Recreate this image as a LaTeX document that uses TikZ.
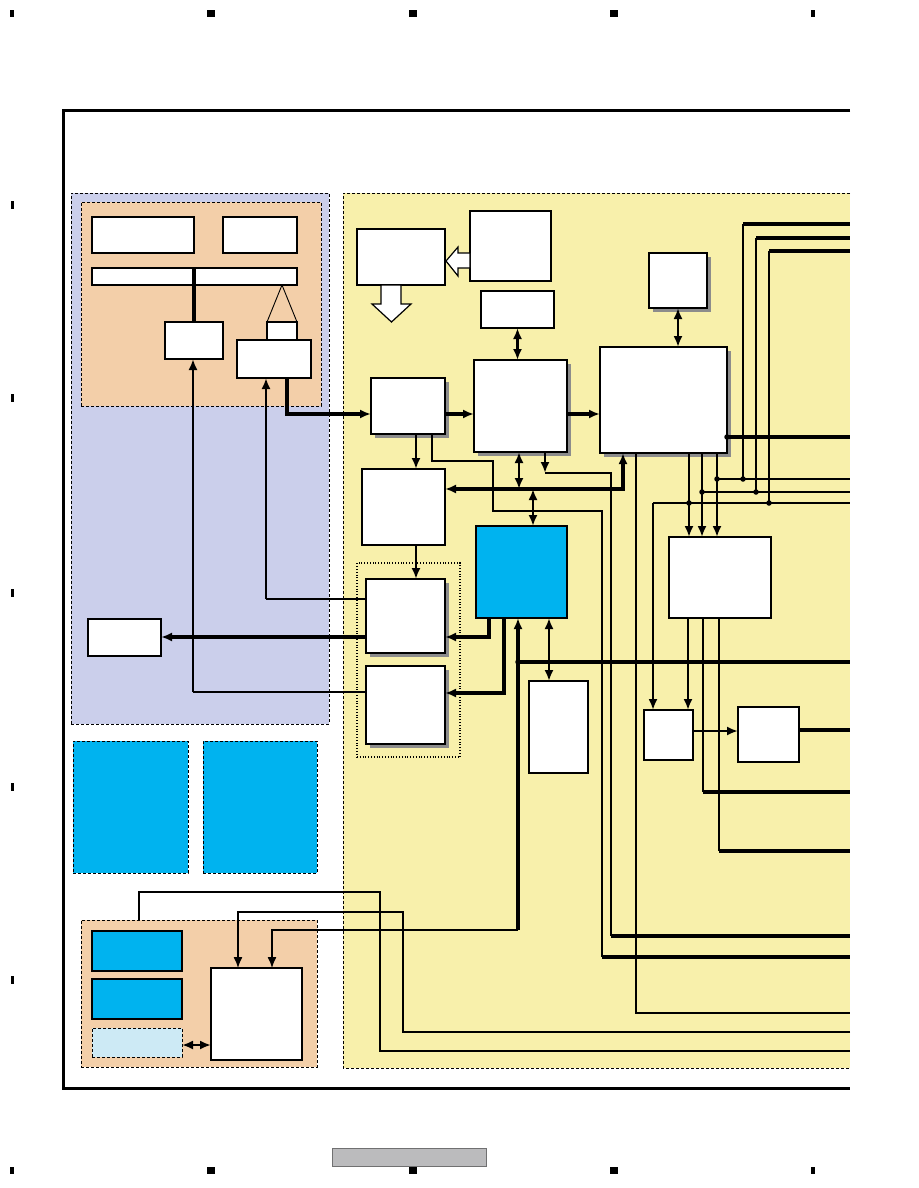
\documentclass[tikz,border=0pt]{standalone}
\usepackage{tikz}
\usetikzlibrary{arrows.meta, calc, positioning, shadows}

\definecolor{lavender}{HTML}{CBCFEB}
\definecolor{peach}{HTML}{F3CFA9}
\definecolor{cream}{HTML}{F8F0AB}
\definecolor{chipblue}{HTML}{00B3EF}
\definecolor{paleblue}{HTML}{CDEAF5}
\definecolor{plategray}{HTML}{BBBBBD}

\begin{document}
\begin{tikzpicture}[
    x=1pt, y=-1pt,
    >={Latex[length=11pt,width=9pt]},
    sz/.style 2 args={minimum width=#1pt, minimum height=#2pt},
    zone/.style={draw, dash pattern=on 3pt off 2pt, line width=0.8pt, inner sep=0pt, outer sep=0pt},
    blk/.style={draw, fill=white, line width=1.9pt, inner sep=0pt, outer sep=0pt},
    shd/.style={blk, drop shadow={shadow xshift=3.5pt, shadow yshift=-3.5pt, fill=black!45, opacity=1}},
    chip/.style={blk, fill=chipblue},
    bus/.style={line width=3.3pt},
    link/.style={line width=2.5pt},
    wire/.style={line width=1.3pt},
    hollow/.style={draw, fill=white, line width=1.2pt},
    joint/.style={circle, fill, inner sep=0pt, minimum size=5.5pt}
]
\useasboundingbox (0,0) rectangle (918,1188);

% page marks
\foreach \xx/\ww in {12/3.5, 211/8, 413/8, 614/8, 813/3.5} {
    \fill (\xx-\ww/2,10) rectangle (\xx+\ww/2,17);
    \fill (\xx-\ww/2,1167) rectangle (\xx+\ww/2,1174);
}
\foreach \yy in {205, 398, 593, 787, 980}
    \fill (10.5,\yy-4) rectangle (14,\yy+4);
\draw[plategray!60!black, fill=plategray] (332,1148) rectangle (486,1166);
\draw[line width=3pt] (850,111) -- (63,111) -- (63,1088) -- (850,1088);
\coordinate (rim) at (850,0);

% regions
\node[zone, fill=lavender, sz={258}{531}] (tunerbay) at (200,458.5) {};
\node[zone, fill=peach, sz={240}{204}] (frontbay) at (201,304) {};
\node[inner sep=0pt, outer sep=0pt, fill=cream, sz={507}{875}] (mainbay) at (596.5,630.5) {};
\draw[zone] (mainbay.north east) -- (mainbay.north west) -- (mainbay.south west) -- (mainbay.south east);
\node[zone, dotted, line width=1.2pt, sz={103}{194}] (pair) at (408.5,660) {};
\node[zone, fill=chipblue, sz={115}{132}] (cardA) at (130.5,807) {};
\node[zone, fill=chipblue, sz={114}{132}] (cardB) at (260,807) {};
\node[zone, fill=peach, sz={236}{147}] (lowbay) at (199,993.5) {};

% front panel
\node[blk, sz={102}{36}] (disp) at (143,235) {};
\node[blk, sz={74}{36}] (keys) at (260,235) {};
\node[blk, sz={205}{17}] (bar) at (194.5,276.5) {};
\node[blk, sz={58}{37}] (drv) at (194,340.5) {};
\node[blk, sz={30}{18}] (cap) at (282,331) {};
\node[blk, sz={74}{38}] (sens) at (274,359) {};
\node[blk, sz={73}{37}] (outl) at (124.5,637.5) {};

% main board
\node[blk, sz={88}{56}] (pickup) at (401,257) {};
\node[blk, sz={81}{70}] (laser) at (510.5,246) {};
\node[blk, sz={73}{37}] (mem) at (517.5,309.5) {};
\node[shd, sz={74}{56}] (rfamp) at (408,406) {};
\node[shd, sz={93}{92}] (dsp) at (520.5,406) {};
\node[shd, sz={58}{55}] (dram) at (678,280.5) {};
\node[shd, sz={127}{106}] (dec) at (663.5,400) {};
\node[blk, sz={83}{76}] (servo) at (403.5,507) {};
\node[chip, sz={91}{92}] (cpu) at (521.5,572) {};
\node[shd, sz={79}{74}] (drvA) at (405.5,616) {};
\node[shd, sz={79}{78}] (drvB) at (405.5,705) {};
\node[blk, sz={59}{92}] (flash) at (558.5,727) {};
\node[blk, sz={102}{81}] (vout) at (720,577.5) {};
\node[blk, sz={49}{50}] (dac) at (668.5,735) {};
\node[blk, sz={61}{55}] (aout) at (768.5,734.5) {};

% power block
\node[blk, fill=chipblue, sz={90}{40}] (regA) at (137,951) {};
\node[blk, fill=chipblue, sz={90}{40}] (regB) at (137,999) {};
\node[zone, fill=paleblue, sz={90}{29}] (stby) at (137,1042.5) {};
\node[blk, sz={91}{92}] (psu) at (256.5,1014) {};

\draw[hollow] ($(laser.west)+(0,7)$) -- ++(-12,0) -- ++(0,-6) -- ++(-12,14) -- ++(12,15) -- ++(0,-8) -- ++(12,0) -- cycle;
\draw[hollow] (pickup.south) -- ++(0,19) -- ++(10,0) -- ++(-19.5,18) -- ++(-19.5,-18) -- ++(9,0) -- ++(0,-19) -- cycle;

\draw[bus] (drv.north |- bar.north) -- (drv.north);
\draw[wire, line width=0.9pt] (cap.north |- bar.south) -- (cap.north west) (cap.north |- bar.south) -- (cap.north east);
\draw[bus,->] ([xshift=13pt]sens.south) |- ([yshift=-8pt]rfamp.west);
\draw[bus,->] ([yshift=-8pt]rfamp.east) -- ([yshift=-8pt]rfamp.east -| dsp.west);
\draw[bus,->] ([yshift=-8pt]dsp.east) -- ([yshift=-8pt]dsp.east -| dec.west);
\draw[link,<->] (mem.south) -- (mem.south |- dsp.north);
\draw[link,<->] (dram.south) -- (dram.south |- dec.north);
\draw[link,->] ([xshift=8pt]rfamp.south) -- ([xshift=8pt]rfamp.south |- servo.north);
\draw[link,->] ([xshift=12.5pt]servo.south) -- ([xshift=12.5pt]servo.south |- drvA.north);
\draw[wire] ([xshift=24pt]rfamp.south) |- (493,461) |- (602,511) -- (602,957);
\draw[bus] (602,957) -- (602,957 -| rim);
\draw[link,->] ([xshift=24.5pt]dsp.south) -- ++(0,21);
\draw[wire] ([xshift=24.5pt]dsp.south) ++(0,21) -| (611,936);
\draw[bus] (611,936) -- (611,936 -| rim);
\draw[bus,<->] ([yshift=18pt]servo.east) -| ([xshift=-40.5pt]dec.south);
\draw[link,<->] (dsp.south -| 519,0) -- (519,489);
\draw[link,<->] (533,489) -- (cpu.north -| 533,0);
\draw[bus,->] ([xshift=-32.5pt]cpu.south) |- ([yshift=-21pt]drvA.east);
\draw[bus,->] ([xshift=-17.5pt]cpu.south) |- ([yshift=12pt]drvB.east);
\draw[link,<->] ([xshift=27.5pt]cpu.south) -- ([xshift=27.5pt]cpu.south |- flash.north);
\draw[bus,->] ([yshift=-21pt]drvA.west) -- ([yshift=-21pt]drvA.west -| outl.east);
\draw[wire] ([yshift=17pt]drvA.west) -- (266,599);
\draw[link,->] (266,599) -- (266,599 |- sens.south);
\draw[wire] ([yshift=13pt]drvB.west) -- (193,692);
\draw[link,->] (193,692) -- (193,692 |- drv.south);

\draw[bus] ([yshift=-37pt]dec.east) -- ([yshift=-37pt]dec.east -| rim);
\node[joint] at ([yshift=-37pt]dec.east) {};
\foreach \yy/\xx/\yb in {224/743/479, 238/756/492, 251/769/503} {
    \draw[bus] (\xx,\yy) -- (\xx,\yy -| rim);
    \draw[wire] (\xx,\yy) -- (\xx,\yb);
    \node[joint] at (\xx,\yb) {};
}
\draw[wire] (717,479) -- (717,479 -| rim);
\draw[wire] (702,492) -- (702,492 -| rim);
\draw[wire] (653,503) -- (653,503 -| rim);
\foreach \xx/\yd in {689/503, 702/492, 717/479} {
    \draw[link,->] (dec.south -| \xx,0) -- (vout.north -| \xx,0);
    \node[joint] at (\xx,\yd) {};
}
\draw[link,->] (653,503) -- (dac.north -| 653,0);
\draw[link,->] (vout.south -| 688,0) -- (dac.north -| 688,0);
\draw[link] (vout.south -| 703,0) -- (703,792);
\draw[bus] (703,792) -- (703,792 -| rim);
\draw[link] (vout.south -| 719,0) -- (719,851);
\draw[bus] (719,851) -- (719,851 -| rim);
\draw[link,->] ([yshift=4pt]dac.east) -- ([yshift=4pt]dac.east -| aout.west);
\draw[bus] ([yshift=4.5pt]aout.east) -- ([yshift=4.5pt]aout.east -| rim);
\draw[wire] (dec.south -| 636,0) -- (636,1013) -- (636,1013 -| rim);

\draw[bus] (518,662) -- (518,662 -| rim);
\node[joint] at (518,662) {};
\draw[wire,->] (518,930) -| ([xshift=15.5pt]psu.north);
\draw[bus,->] (518,930) -- (cpu.south -| 518,0);
\draw[wire,->] (rim |- 0,1032) -| (403,912) -| ([xshift=-18.5pt]psu.north);
\draw[wire] ([xshift=-60pt]lowbay.north) |- (380,892) |- (rim |- 0,1051);
\draw[link,<->] ([yshift=-2.5pt]stby.east) -- ([yshift=-2.5pt]stby.east -| psu.west);
\end{tikzpicture}
\end{document}
